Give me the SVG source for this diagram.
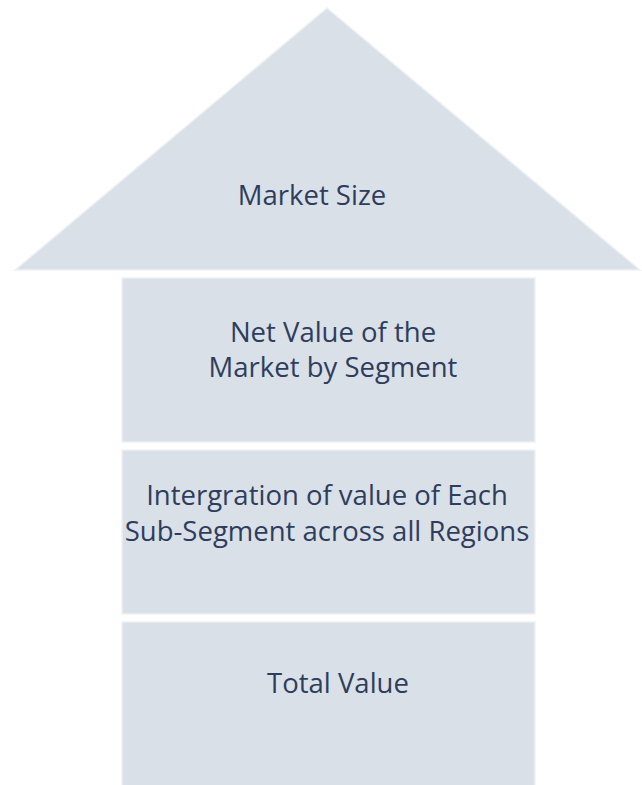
<svg xmlns="http://www.w3.org/2000/svg" width="642" height="785" viewBox="0 0 642 785">
<style>
.shape{fill:#dae0e7;stroke:#eef1f5;stroke-width:1.5}
.t{font-family:"Open Sans","Liberation Sans",sans-serif;font-size:27.5px;fill:#2e3d5e;text-anchor:middle}
</style>
<rect width="642" height="785" fill="#ffffff"/>
<g id="market-size">
<polygon class="shape" points="327,8 640,270 15,270"/>
<text class="t" x="312" y="205">Market Size</text>
</g>
<g id="net-value">
<rect class="shape" x="122" y="278" width="413" height="164"/>
<text class="t" x="333" y="342">Net Value of the</text>
<text class="t" x="333" y="377">Market by Segment</text>
</g>
<g id="integration">
<rect class="shape" x="122" y="450" width="413" height="164"/>
<text class="t" x="327" y="505">Intergration of value of Each</text>
<text class="t" x="327" y="541">Sub-Segment across all Regions</text>
</g>
<g id="total-value">
<rect class="shape" x="122" y="622" width="413" height="165"/>
<text class="t" x="338" y="693">Total Value</text>
</g>
<g id="connectors"></g>
</svg>
